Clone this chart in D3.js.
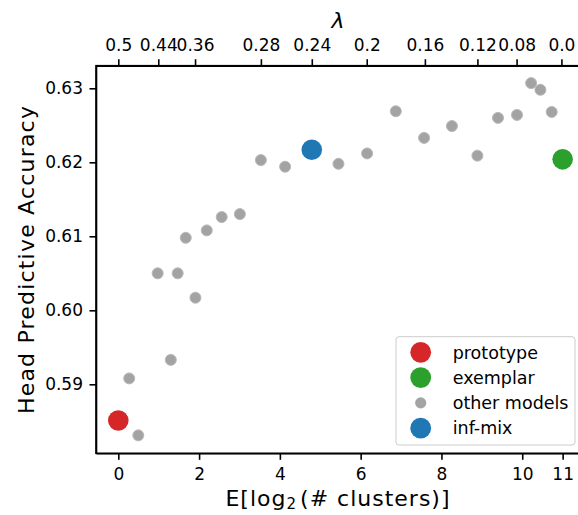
<!DOCTYPE html>
<html>
<head>
<meta charset="utf-8">
<script src="https://cdn.jsdelivr.net/npm/d3@7"></script>
<style>
  body { margin: 0; background: #fff; }
  svg { display: block; font-family: "DejaVu Sans", sans-serif; }
  .axis path, .axis line { stroke: #000; stroke-width: 1.6; }
  .axis text { font-size: 17px; fill: #000; font-family: "DejaVu Sans", sans-serif; }
</style>
</head>
<body>
<svg id="chart" width="578" height="515"></svg>
<script>
// other models: E[log2(# clusters)] and accuracy
const otherX = [0.27, 0.495, 0.975, 1.30, 1.47, 1.67, 1.91, 2.19, 2.56, 3.01, 3.53, 4.13,
  5.45, 6.16, 6.87, 7.57, 8.26, 8.89, 9.40, 9.87, 10.22, 10.45, 10.73];
const otherY = [0.5908, 0.5831, 0.6050, 0.5933, 0.6050, 0.6098, 0.6017, 0.6108, 0.6126, 0.6130, 0.6203, 0.6194,
  0.6198, 0.6212, 0.6269, 0.6233, 0.6249, 0.6209, 0.6260, 0.6264, 0.6307, 0.6298, 0.6268];

// named models
const specialNames = ['prototype', 'exemplar', 'inf-mix'];
const specialX = [0, 11, 4.79];
const specialY = [0.5851, 0.6204, 0.6217];
const specialColors = ['#d62728', '#2ca02c', '#1f77b4'];

// ticks
const xTicks = [0, 2, 4, 6, 8, 10, 11];
const yTicks = [0.59, 0.60, 0.61, 0.62, 0.63];
const lambdaTickX = [0, 0.99, 1.90, 3.53, 4.79, 6.15, 7.59, 8.89, 9.86, 10.97];
const lambdaLabels = ['0.5', '0.44', '0.36', '0.28', '0.24', '0.2', '0.16', '0.12', '0.08', '0.0'];

const legendNames = ['prototype', 'exemplar', 'other models', 'inf-mix'];
const legendColors = ['#d62728', '#2ca02c', '#a4a4a4', '#1f77b4'];

const svg = d3.select('#chart');
const plotLeft = 96, plotRight = 580, plotTop = 65.7, plotBottom = 453.3;

const x = d3.scaleLinear().domain([-0.552, 11.43]).range([plotLeft, plotRight]);
const y = d3.scaleLinear().domain([0.580676, 0.633054]).range([plotBottom, plotTop]);

// axes
svg.append('g')
  .attr('class', 'axis')
  .attr('transform', `translate(0,${plotBottom})`)
  .call(d3.axisBottom(x).tickValues(xTicks).tickFormat(d3.format('d')).tickSize(6.5).tickPadding(8).tickSizeOuter(0));

svg.append('g')
  .attr('class', 'axis')
  .attr('transform', `translate(${plotLeft},0)`)
  .call(d3.axisLeft(y).tickValues(yTicks).tickFormat(d3.format('.2f')).tickSize(6.5).tickPadding(6.5).tickSizeOuter(0));

svg.append('g')
  .attr('class', 'axis')
  .attr('transform', `translate(0,${plotTop})`)
  .call(d3.axisTop(x).tickValues(lambdaTickX).tickFormat((d, i) => lambdaLabels[i]).tickSize(6.5).tickPadding(8.5).tickSizeOuter(0));

// frame
svg.append('rect')
  .attr('x', plotLeft)
  .attr('y', plotTop)
  .attr('width', plotRight - plotLeft)
  .attr('height', plotBottom - plotTop)
  .attr('fill', 'none')
  .attr('stroke', '#000')
  .attr('stroke-width', 1.6);

// points
const others = otherX.map((d, i) => ({ x: d, y: otherY[i] }));
svg.append('g')
  .selectAll('circle')
  .data(others)
  .join('circle')
  .attr('cx', (d) => x(d.x))
  .attr('cy', (d) => y(d.y))
  .attr('r', 5.5)
  .attr('fill', '#a3a3a3')
  .attr('stroke', '#b9b9b9')
  .attr('stroke-width', 1);

const specials = specialNames.map((n, i) => ({
  name: n, x: specialX[i], y: specialY[i], color: specialColors[i],
}));
svg.append('g')
  .selectAll('circle')
  .data(specials)
  .join('circle')
  .attr('cx', (d) => x(d.x))
  .attr('cy', (d) => y(d.y))
  .attr('r', 10.3)
  .attr('fill', (d) => d.color);

// axis labels
const xLabel = svg.append('text')
  .attr('x', (plotLeft + plotRight) / 2)
  .attr('y', 506)
  .attr('text-anchor', 'middle')
  .style('font-size', '22px')
  .style('letter-spacing', '1px');
xLabel.append('tspan').text('E[log');
xLabel.append('tspan').attr('dy', 3).style('font-size', '15px').text('2');
xLabel.append('tspan').attr('dy', -3).attr('dx', 3).text('(# clusters)]');

svg.append('text')
  .attr('transform', `translate(33.5,${(plotTop + plotBottom) / 2}) rotate(-90)`)
  .attr('text-anchor', 'middle')
  .style('font-size', '22px')
  .style('letter-spacing', '1.2px')
  .text('Head Predictive Accuracy');

svg.append('text')
  .attr('x', (plotLeft + plotRight) / 2)
  .attr('y', 28)
  .attr('text-anchor', 'middle')
  .style('font-size', '22px')
  .style('font-style', 'italic')
  .text('λ');

// legend
const legend = svg.append('g').attr('transform', 'translate(396,336.7)');
legend.append('rect')
  .attr('width', 179)
  .attr('height', 108.3)
  .attr('rx', 3)
  .attr('fill', 'rgba(255,255,255,0.8)')
  .attr('stroke', '#cccccc')
  .attr('stroke-width', 1);

for (let i = 0; i < legendNames.length; i += 1) {
  legend.append('circle')
    .attr('cx', 24.7)
    .attr('cy', 15.6 + 25.3 * i)
    .attr('r', legendNames[i] === 'other models' ? 5.6 : 10.4)
    .attr('fill', legendColors[i]);
  legend.append('text')
    .attr('x', 56.7)
    .attr('y', 15.6 + 25.3 * i)
    .attr('dy', '0.36em')
    .style('font-size', '17.5px')
    .text(legendNames[i]);
}
</script>
</body>
</html>
